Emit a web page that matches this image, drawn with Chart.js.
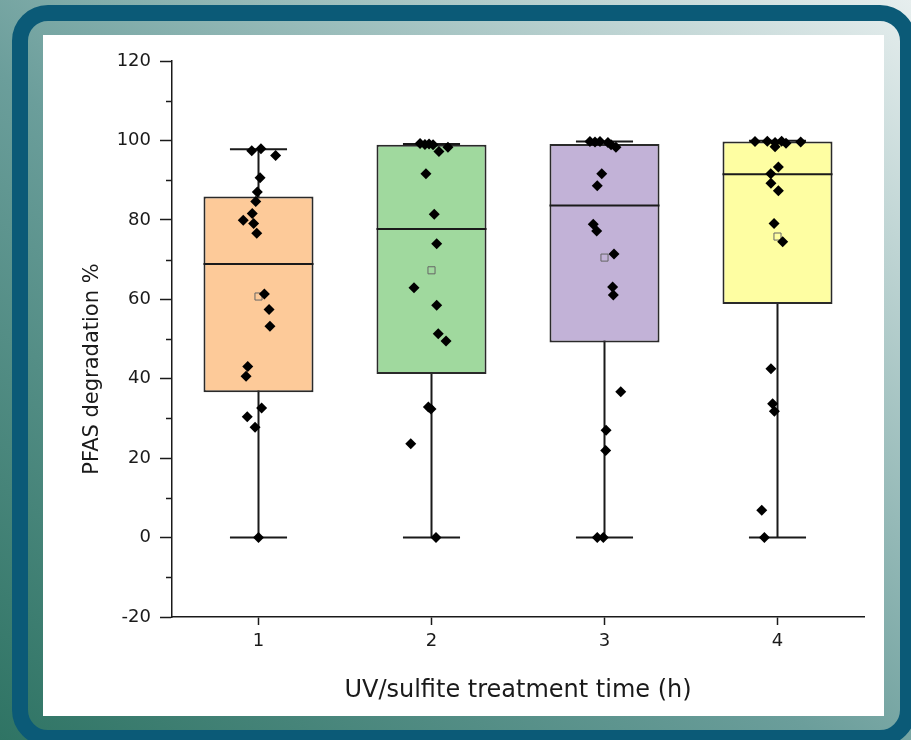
<!DOCTYPE html>
<html>
<head>
<meta charset="utf-8">
<script src="https://cdn.jsdelivr.net/npm/chart.js@4"></script>
<style>
  html, body { margin: 0; padding: 0; }
  body {
    width: 911px; height: 740px; overflow: hidden; position: relative;
    background: linear-gradient(to top right, #2f7464 0%, #6b9e9b 45%, #e6eeee 100%);
  }
  #ring {
    position: absolute; left: 12px; top: 5px; width: 904px; height: 741px;
    box-sizing: border-box; border: 16px solid #0b5a77; border-radius: 36px;
  }
  #panel { position: absolute; left: 43px; top: 35px; width: 841px; height: 681px; background: #fff; }
  #chart { position: absolute; left: 0; top: 0; }
</style>
</head>
<body>
<div id="ring"></div>
<div id="panel"></div>
<canvas id="chart" width="911" height="740"></canvas>
<script>
"use strict";

// treatment time categories (h)
const categories = [1, 2, 3, 4];

// box statistics
const whiskerLow = [0, 0, 0, 0];
const boxQ1 = [36.6, 41.2, 49.1, 58.8];
const boxMedian = [68.9, 77.7, 83.6, 91.5];
const boxQ3 = [85.9, 98.9, 99.1, 99.7];
const whiskerHigh = [97.8, 99.1, 99.7, 99.9];
const boxMean = [60.7, 67.3, 70.5, 75.8];

// individual samples (x includes the jitter of the original plot)
const samplesX1 = [0.961, 1.014, 1.099, 1.009, 0.993, 0.984, 0.964, 0.912, 0.972, 0.990, 1.034, 1.061, 1.066, 0.938, 0.928, 1.018, 0.935, 0.980, 1.0];
const samplesY1 = [97.4, 97.9, 96.2, 90.6, 87.0, 84.6, 81.6, 79.9, 79.1, 76.6, 61.3, 57.4, 53.2, 43.1, 40.6, 32.6, 30.4, 27.8, 0];
const samplesX2 = [1.934, 1.962, 1.986, 2.009, 2.095, 2.043, 1.968, 2.016, 2.030, 1.899, 2.030, 2.039, 2.084, 1.982, 1.997, 1.880, 2.026];
const samplesY2 = [99.2, 99.0, 99.1, 98.9, 98.3, 97.2, 91.6, 81.4, 74.0, 62.9, 58.5, 51.3, 49.5, 32.9, 32.4, 23.6, 0];
const samplesX3 = [2.916, 2.945, 2.974, 3.020, 3.038, 3.066, 2.984, 2.958, 2.935, 2.955, 3.055, 3.047, 3.051, 3.094, 3.009, 3.007, 2.958, 2.993];
const samplesY3 = [99.7, 99.6, 99.7, 99.5, 98.9, 98.3, 91.6, 88.6, 78.9, 77.2, 71.4, 63.1, 61.1, 36.7, 27.0, 21.9, 0, 0];
const samplesX4 = [3.870, 3.941, 3.986, 4.024, 3.986, 4.049, 4.134, 4.005, 3.961, 3.962, 4.005, 3.980, 4.030, 3.962, 3.972, 3.982, 3.909, 3.924];
const samplesY4 = [99.7, 99.8, 99.5, 99.8, 98.4, 99.3, 99.6, 93.3, 91.6, 89.2, 87.3, 79.1, 74.5, 42.5, 33.7, 31.8, 6.9, 0];

const yMinorTicks = [-10, 10, 30, 50, 70, 90, 110];

const boxFill = ["#fdca99", "#a0d99e", "#c2b2d7", "#fefea2"];
const BOX_HALF = 0.318;   // half box width, in category units
const CAP_HALF = 0.165;   // half whisker cap width
const INK = "#1a1a1a";

function segments(list) {
  // join [x0,y0,x1,y1] segments with gaps
  const out = [];
  for (const [x0, y0, x1, y1] of list) {
    out.push({ x: x0, y: y0 }, { x: x1, y: y1 }, { x: x1, y: null });
  }
  return out;
}

const samples = [
  [samplesX1, samplesY1], [samplesX2, samplesY2], [samplesX3, samplesY3], [samplesX4, samplesY4],
].flatMap(([xs, ys]) => xs.map((x, i) => ({ x, y: ys[i] })));

const whiskerSegs = segments(categories.flatMap((c, i) => [
  [c, whiskerLow[i], c, whiskerHigh[i]],
  [c - CAP_HALF, whiskerHigh[i], c + CAP_HALF, whiskerHigh[i]],
  [c - CAP_HALF, whiskerLow[i], c + CAP_HALF, whiskerLow[i]],
]));
const medianSegs = segments(categories.map((c, i) => [c - BOX_HALF, boxMedian[i], c + BOX_HALF, boxMedian[i]]));

const extras = {
  id: "extras",
  afterDraw(chart) {
    const { ctx, chartArea, scales: { y } } = chart;
    ctx.save();
    ctx.strokeStyle = INK;
    ctx.lineWidth = 1.5;
    for (const v of yMinorTicks) {
      const py = Math.round(y.getPixelForValue(v)) + 0.5;
      ctx.beginPath();
      ctx.moveTo(chartArea.left - 6, py);
      ctx.lineTo(chartArea.left, py);
      ctx.stroke();
    }
    ctx.translate(chartArea.left - 79, (chartArea.top + chartArea.bottom) / 2 + 30);
    ctx.rotate(-Math.PI / 2);
    ctx.font = '21px "DejaVu Sans"';
    ctx.fillStyle = INK;
    ctx.textAlign = "center";
    ctx.textBaseline = "middle";
    ctx.fillText("PFAS degradation %", 0, 0);
    ctx.restore();
  },
};

Chart.defaults.font.family = '"DejaVu Sans", sans-serif';
Chart.defaults.color = INK;

new Chart(document.getElementById("chart"), {
  type: "bar",
  data: {
    datasets: [
      {
        type: "scatter",
        data: samples,
        pointStyle: "rectRot",
        pointRadius: 5.5,
        backgroundColor: "#000",
        borderWidth: 0,
        order: 0,
      },
      {
        type: "scatter",
        data: categories.map((c, i) => ({ x: c, y: boxMean[i] })),
        pointStyle: "rect",
        pointRadius: 5,
        borderColor: "#666",
        borderWidth: 1,
        backgroundColor: "rgba(0,0,0,0)",
        order: 1,
      },
      {
        type: "line",
        data: medianSegs,
        borderColor: INK,
        borderWidth: 2,
        pointRadius: 0,
        spanGaps: false,
        order: 2,
      },
      {
        type: "bar",
        data: categories.map((c, i) => ({ x: c, y: [boxQ1[i], boxQ3[i]] })),
        backgroundColor: boxFill,
        borderColor: "#2a2a2a",
        borderWidth: 2,
        borderSkipped: false,
        grouped: false,
        barPercentage: 0.636,
        categoryPercentage: 1,
        order: 3,
      },
      {
        type: "line",
        data: whiskerSegs,
        borderColor: INK,
        borderWidth: 2,
        pointRadius: 0,
        spanGaps: false,
        order: 4,
      },
    ],
  },
  options: {
    responsive: false,
    animation: false,
    layout: { padding: { left: 40, right: 47, top: 61, bottom: 23 } },
    plugins: { legend: { display: false }, tooltip: { enabled: false } },
    scales: {
      x: {
        type: "linear",
        min: 0.5,
        max: 4.5,
        offset: false,
        afterBuildTicks: s => { s.ticks = categories.map(v => ({ value: v })); },
        afterFit: s => { s.height = 100; },
        grid: { offset: false, drawOnChartArea: false, tickLength: 8, tickColor: INK, tickWidth: 1.5 },
        border: { color: INK, width: 1.5 },
        ticks: { font: { size: 18 }, padding: 6, color: INK },
        title: {
          display: true,
          text: "UV/sulfite treatment time (h)",
          font: { size: 24 },
          color: INK,
          padding: { top: 4, bottom: 12 },
        },
      },
      y: {
        min: -20,
        max: 120,
        afterFit: s => { s.width = 132; },
        grid: { drawOnChartArea: false, tickLength: 12, tickColor: INK, tickWidth: 1.5 },
        border: { color: INK, width: 1.5 },
        ticks: { stepSize: 20, font: { size: 18 }, padding: 9, color: INK },
      },
    },
  },
  plugins: [extras],
});
</script>
</body>
</html>
